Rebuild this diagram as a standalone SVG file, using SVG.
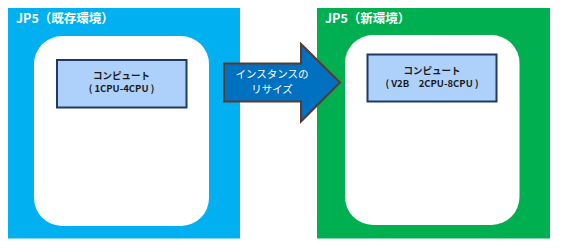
<svg xmlns="http://www.w3.org/2000/svg" width="565" height="250" viewBox="0 0 565 250">
<style>
.t{font-family:"Noto Sans CJK JP","Noto Sans",sans-serif}
.title{font-size:12.5px;font-weight:bold;fill:#fff}
.inner{fill:#fff}
.comp{fill:#aed1fb;stroke:#1f3864;stroke-width:2}
.ct{font-size:9.5px;font-weight:bold;fill:#1a1a1a;text-anchor:middle}
.at{font-size:10.5px;fill:#fff;text-anchor:middle}
</style>
<rect width="565" height="250" fill="#fff"/>
<g id="env-old">
<rect x="8" y="8" width="232" height="230.5" fill="#00b0f0"/>
<text class="t title" x="16" y="23">JP5（既存環境）</text>
<rect class="inner" x="34" y="36" width="175" height="190" rx="28" ry="28"/>
</g>
<g id="compute-old">
<rect class="comp" x="57" y="60" width="129.5" height="47.5"/>
<text class="t ct" x="121.5" y="78.5">コンピュート</text>
<text class="t ct" x="121.5" y="92">( 1CPU-4CPU )</text>
</g>
<g id="env-new">
<rect x="317" y="8" width="233" height="230.5" fill="#00b050"/>
<text class="t title" x="325" y="23">JP5（新環境）</text>
<rect class="inner" x="345" y="35" width="174.5" height="190" rx="28" ry="28"/>
</g>
<g id="compute-new">
<rect class="comp" x="367.5" y="54.5" width="129" height="47"/>
<text class="t ct" x="432" y="74">コンピュート</text>
<text class="t ct" x="432" y="87">( V2B　2CPU-8CPU )</text>
</g>
<g id="connectors">
<g id="resize-arrow">
<path d="M224,63.5 H301 V44 L340,82.5 L301,121.5 V101.5 H224 Z" fill="#0070c0" stroke="#5b3a2e" stroke-width="2" stroke-linejoin="miter"/>
<text class="t at" x="272" y="78">インスタンスの</text>
<text class="t at" x="272" y="92.5">リサイズ</text>
</g>
</g>
</svg>
